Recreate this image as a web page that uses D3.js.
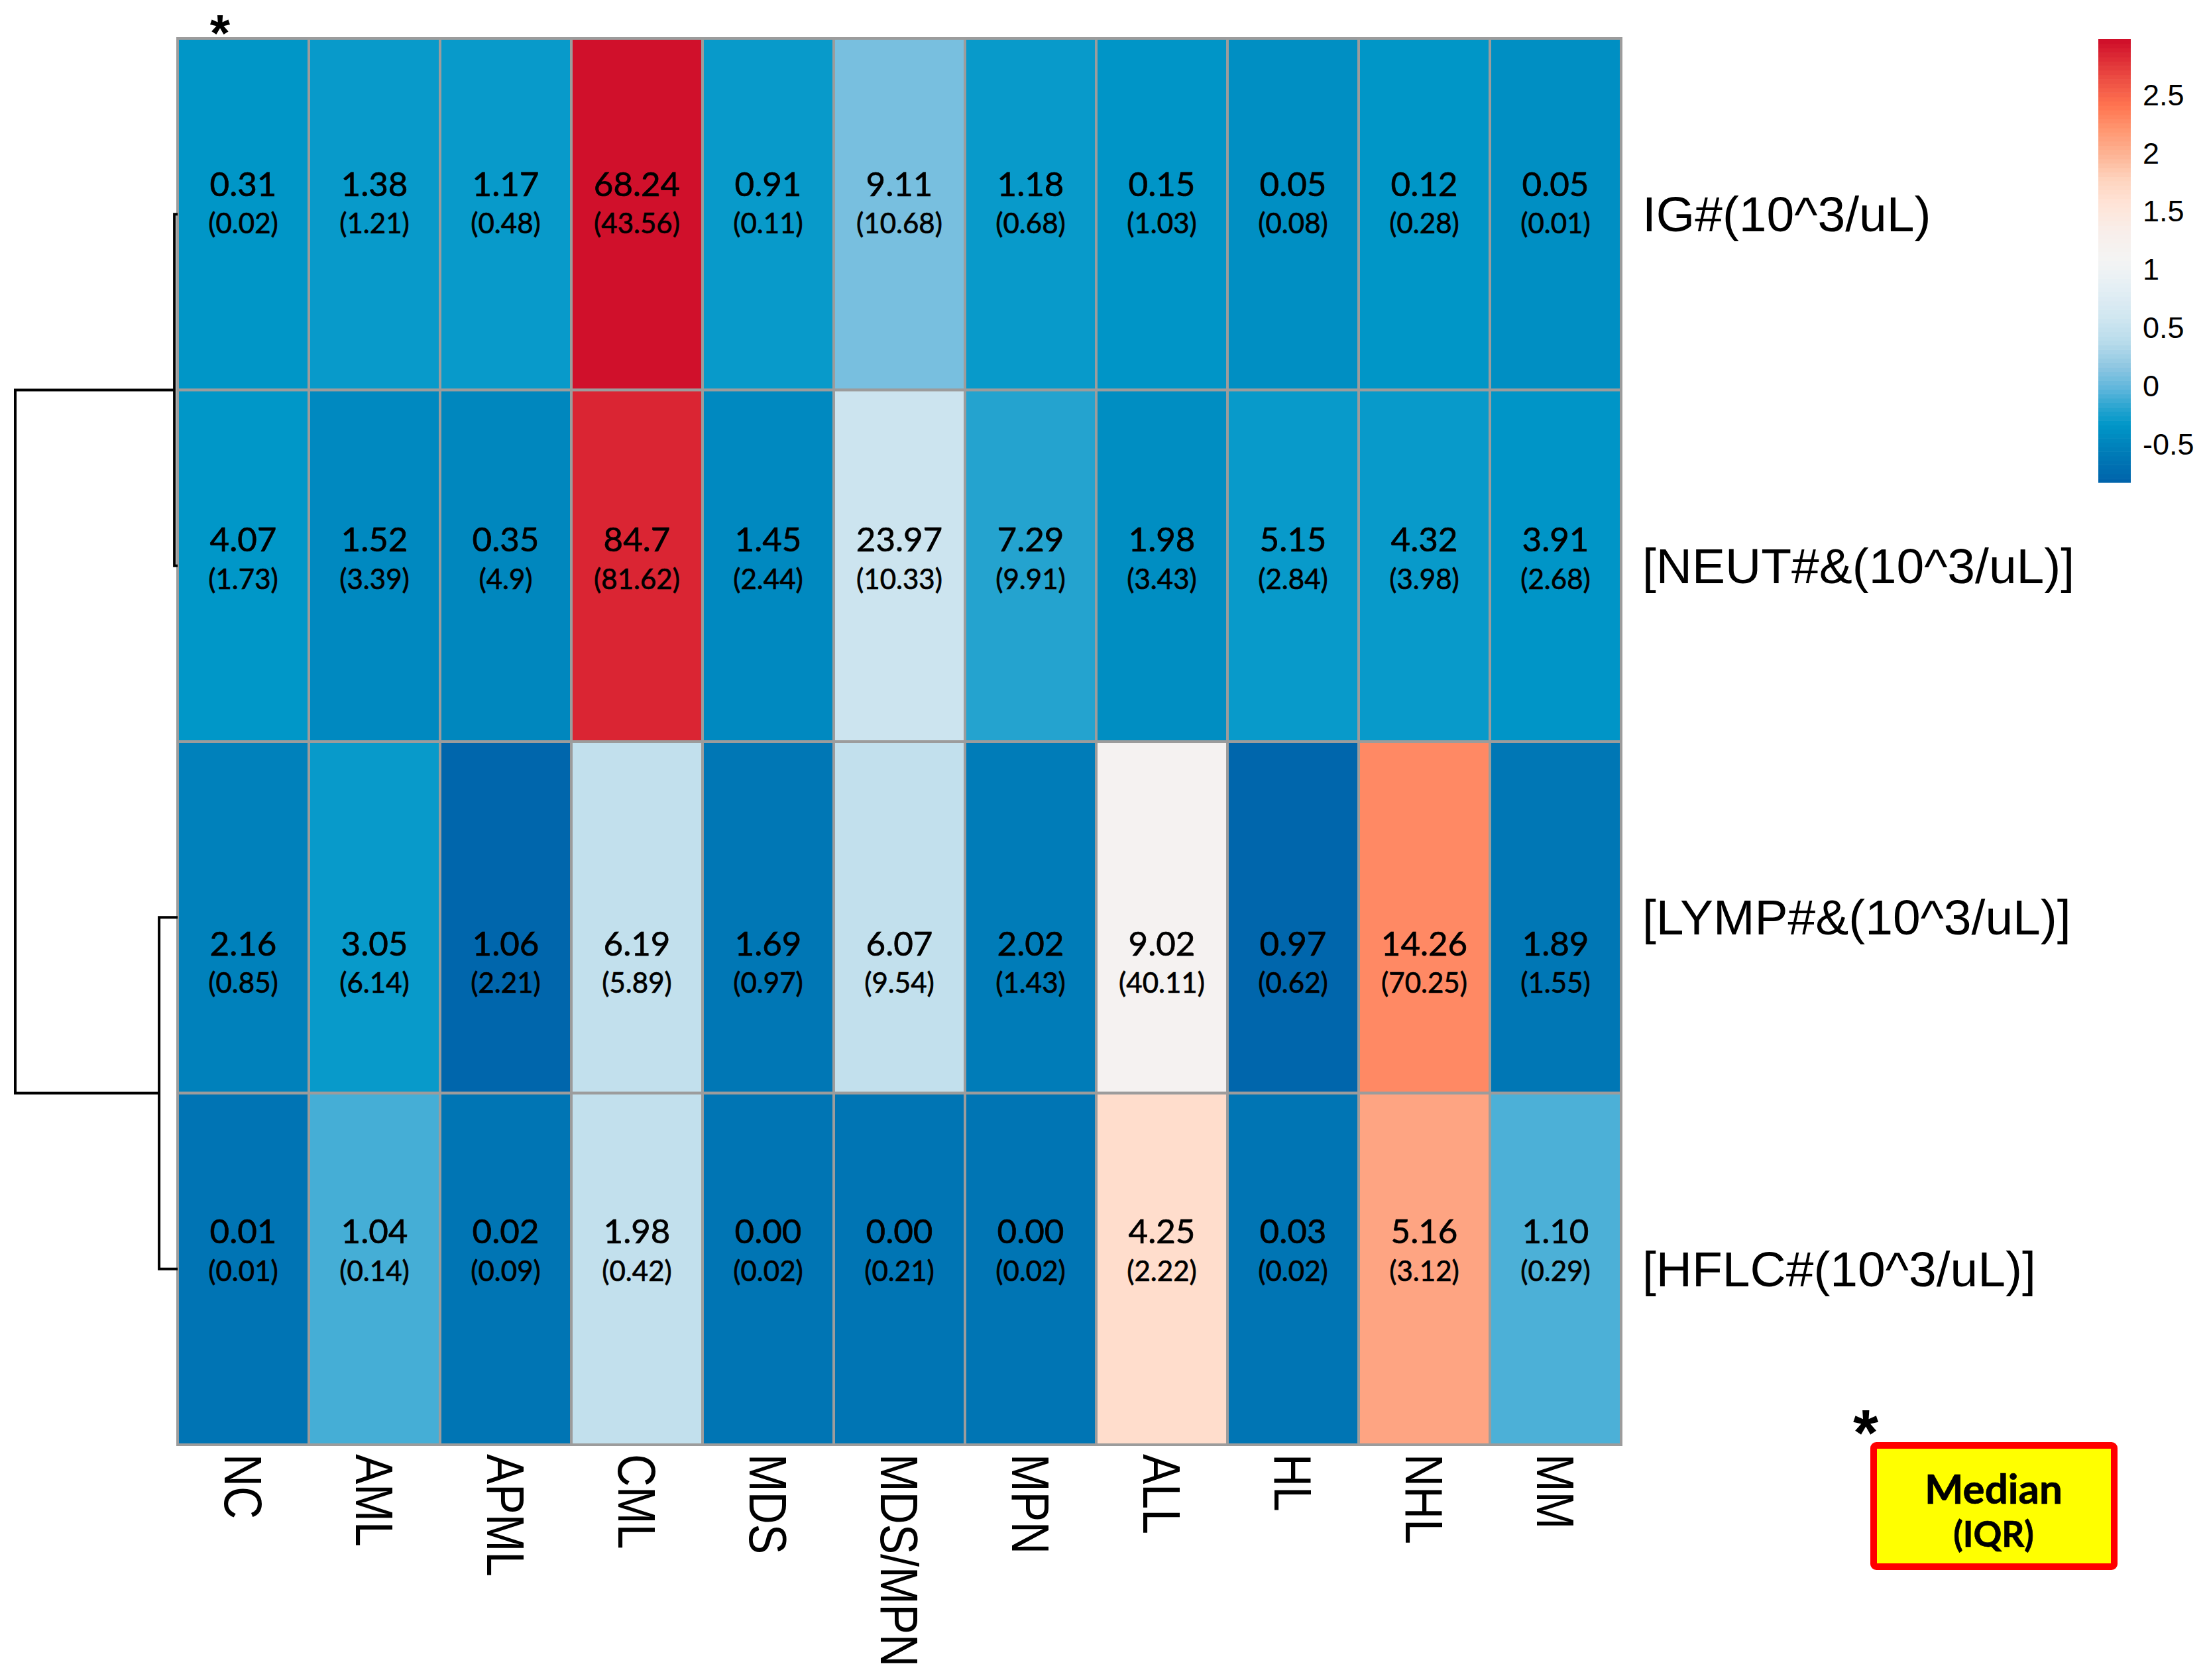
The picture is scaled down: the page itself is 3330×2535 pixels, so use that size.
<!DOCTYPE html>
<html lang="en">
<head>
  <meta charset="UTF-8">
  <title>Heatmap median (IQR)</title>
  <style>
    body { margin: 0; background: #fff; }
    .cell { stroke: #9c9c9c; stroke-width: 4; }
    .num { font-family: Lato, "Open Sans", sans-serif; fill: #000; stroke: #000; stroke-width: 0.7px; }
    .lab { font-family: "Liberation Sans", Arial, sans-serif; fill: #000; }
  </style>
</head>
<body>
  <svg width="3330" height="2535"></svg>
  <script src="https://d3js.org/d3.v7.min.js"></script>
  <script>
// Columns (diagnosis groups) and rows (parameters)
const columns = ["NC", "AML", "APML", "CML", "MDS", "MDS/MPN", "MPN", "ALL", "HL", "NHL", "MM"];
const rows = ["IG#(10^3/uL)", "[NEUT#&(10^3/uL)]", "[LYMP#&(10^3/uL)]", "[HFLC#(10^3/uL)]"];

// Median values printed in cells
const medians = [
  ["0.31", "1.38", "1.17", "68.24", "0.91", "9.11", "1.18", "0.15", "0.05", "0.12", "0.05"],
  ["4.07", "1.52", "0.35", "84.7", "1.45", "23.97", "7.29", "1.98", "5.15", "4.32", "3.91"],
  ["2.16", "3.05", "1.06", "6.19", "1.69", "6.07", "2.02", "9.02", "0.97", "14.26", "1.89"],
  ["0.01", "1.04", "0.02", "1.98", "0.00", "0.00", "0.00", "4.25", "0.03", "5.16", "1.10"]
];

// IQR values printed in cells
const iqrs = [
  ["0.02", "1.21", "0.48", "43.56", "0.11", "10.68", "0.68", "1.03", "0.08", "0.28", "0.01"],
  ["1.73", "3.39", "4.9", "81.62", "2.44", "10.33", "9.91", "3.43", "2.84", "3.98", "2.68"],
  ["0.85", "6.14", "2.21", "5.89", "0.97", "9.54", "1.43", "40.11", "0.62", "70.25", "1.55"],
  ["0.01", "0.14", "0.09", "0.42", "0.02", "0.21", "0.02", "2.22", "0.02", "3.12", "0.29"]
];

// Scaled values behind the cell colours
const scaled = [
  [-0.34, -0.30, -0.30, 2.96, -0.30, 0.08, -0.30, -0.35, -0.40, -0.34, -0.40],
  [-0.33, -0.45, -0.47, 2.85, -0.45, 0.55, -0.20, -0.41, -0.30, -0.30, -0.35],
  [-0.52, -0.30, -0.79, 0.47, -0.62, 0.47, -0.57, 1.15, -0.79, 2.28, -0.62],
  [-0.65, -0.10, -0.64, 0.47, -0.64, -0.64, -0.64, 1.66, -0.64, 2.10, -0.08]
];

// Row dendrogram merges: [left, right, height]; ids >= rows.length are earlier merges
const merges = [[0, 1, 0.02], [2, 3, 0.114], [4, 5, 1]];

// Colour bar ticks
const cbTicks = [-0.5, 0, 0.5, 1, 1.5, 2, 2.5];

// colour ramp stops
const rampVals = [-0.83, -0.53, -0.33, -0.20, -0.03, 0.17, 0.37, 0.58, 0.83, 1.08, 1.33, 1.58, 1.78, 1.98, 2.21, 2.41, 2.66, 2.98];
const rampCols = ["#0062aa", "#0080ba", "#0097c8", "#24a3cf", "#5cb5db", "#8fc7e2", "#b7dbeb", "#cfe6f0", "#e3eef4", "#f4f4f4",
                  "#f8eeea", "#ffe3d6", "#fed3bd", "#fdb596", "#ff956f", "#ff7450", "#eb4a42", "#ce0c29"];

const svg = d3.select("svg");

const x = d3.scaleBand().domain(columns).range([268, 2446]);
const y = d3.scaleBand().domain(rows).range([58, 2180]);
const color = d3.scaleLinear().domain(rampVals).range(rampCols).interpolate(d3.interpolateRgb).clamp(true);

// cells
const cells = [];
rows.forEach((r, i) => columns.forEach((c, j) => {
  cells.push({ r, c, i, j, v: scaled[i][j], med: medians[i][j], iqr: iqrs[i][j] });
}));

svg.append("g").selectAll("rect")
  .data(cells)
  .enter().append("rect")
  .attr("class", "cell")
  .attr("x", d => x(d.c))
  .attr("y", d => y(d.r))
  .attr("width", x.bandwidth())
  .attr("height", y.bandwidth())
  .attr("fill", d => color(d.v));

// text block offset per row (the labels were placed by hand in the original)
const rowShift = [-17, -11, 68, -28];
const txt = svg.append("g");
txt.selectAll(".med")
  .data(cells)
  .enter().append("text")
  .attr("class", "num")
  .attr("x", d => x(d.c) + x.bandwidth() / 2)
  .attr("y", d => y(d.r) + y.bandwidth() / 2 + rowShift[d.i] - 30)
  .attr("text-anchor", "middle")
  .attr("dominant-baseline", "central")
  .style("font-size", "51px")
  .text(d => d.med);
txt.selectAll(".iqr")
  .data(cells)
  .enter().append("text")
  .attr("class", "num")
  .attr("x", d => x(d.c) + x.bandwidth() / 2)
  .attr("y", d => y(d.r) + y.bandwidth() / 2 + rowShift[d.i] + 30)
  .attr("text-anchor", "middle")
  .attr("dominant-baseline", "central")
  .style("font-size", "42px")
  .text(d => "(" + d.iqr + ")");

// row labels
svg.append("g").selectAll("text")
  .data(rows)
  .enter().append("text")
  .attr("class", "lab")
  .attr("x", 2478)
  .attr("y", d => y(d) + y.bandwidth() / 2)
  .attr("dominant-baseline", "central")
  .style("font-size", "75px")
  .text(d => d);

// column labels, rotated
svg.append("g").selectAll("text")
  .data(columns)
  .enter().append("text")
  .attr("class", "lab")
  .attr("transform", d => `translate(${x(d) + x.bandwidth() / 2},2194) rotate(90) scale(1,1.18)`)
  .attr("dominant-baseline", "central")
  .style("font-size", "68px")
  .text(d => d);

// dendrogram
const h = d3.scaleLinear().domain([0, 1]).range([268, 23]);
const nodes = rows.map(r => ({ x: 268, y: y(r) + y.bandwidth() / 2 }));
const dendro = svg.append("g").attr("fill", "none").attr("stroke", "#000").attr("stroke-width", 4);
merges.forEach(([a, b, ht]) => {
  const na = nodes[a], nb = nodes[b], xm = h(ht);
  dendro.append("path")
    .attr("d", `M${na.x},${na.y}H${xm}V${nb.y}H${nb.x}`);
  nodes.push({ x: xm, y: (na.y + nb.y) / 2 });
});

// asterisk above first column
svg.append("text")
  .attr("class", "lab")
  .attr("x", 332)
  .attr("y", 77)
  .attr("text-anchor", "middle")
  .style("font-size", "78px")
  .style("font-weight", "bold")
  .text("*");

// colour bar
const cb = d3.scaleLinear().domain([-0.83, 2.98]).range([728, 59]);
const steps = d3.range(100).map(k => -0.83 + (2.98 + 0.83) * k / 100);
const stepH = (728 - 59) / 100;
svg.append("g").selectAll("rect")
  .data(steps)
  .enter().append("rect")
  .attr("x", 3166)
  .attr("width", 49)
  .attr("y", d => cb(d) - stepH)
  .attr("height", stepH + 0.6)
  .attr("fill", d => color(d + (2.98 + 0.83) / 200));
svg.append("g").selectAll("text")
  .data(cbTicks)
  .enter().append("text")
  .attr("class", "lab")
  .attr("x", 3233)
  .attr("y", d => cb(d))
  .attr("dominant-baseline", "central")
  .style("font-size", "45px")
  .text(d => String(d));

// key box
svg.append("rect")
  .attr("x", 2827).attr("y", 2181)
  .attr("width", 363).attr("height", 183)
  .attr("rx", 4)
  .attr("fill", "#ffff00")
  .attr("stroke", "#ff0000")
  .attr("stroke-width", 10);
svg.append("text")
  .attr("class", "num")
  .attr("x", 3008).attr("y", 2245)
  .attr("text-anchor", "middle")
  .attr("dominant-baseline", "central")
  .style("font-size", "62px")
  .style("font-weight", "bold")
  .text("Median");
svg.append("text")
  .attr("class", "num")
  .attr("x", 3008).attr("y", 2313)
  .attr("text-anchor", "middle")
  .attr("dominant-baseline", "central")
  .style("font-size", "53px")
  .style("font-weight", "bold")
  .text("(IQR)");
svg.append("text")
  .attr("class", "lab")
  .attr("x", 2815)
  .attr("y", 2196)
  .attr("text-anchor", "middle")
  .style("font-size", "98px")
  .style("font-weight", "bold")
  .text("*");
  </script>
</body>
</html>
